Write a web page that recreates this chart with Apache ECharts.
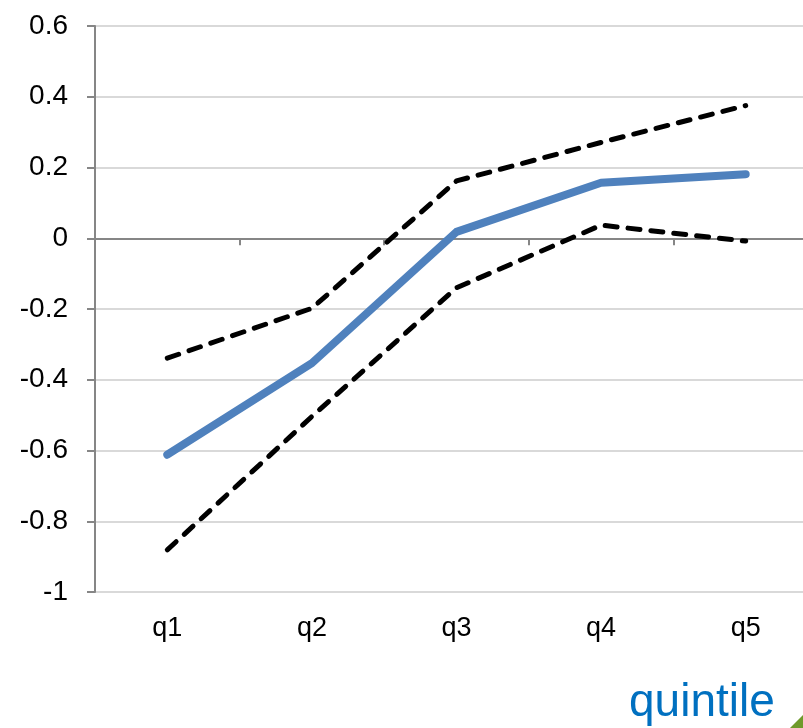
<!DOCTYPE html>
<html>
<head>
<meta charset="utf-8">
<script src="https://cdn.jsdelivr.net/npm/echarts@6/dist/echarts.min.js"></script>
<style>
  html, body { margin: 0; padding: 0; background: #ffffff; overflow: hidden; }
  #wrap { width: 803px; height: 728px; overflow: hidden; }
  #chart { width: 818px; height: 728px; }
</style>
</head>
<body>
<div id="wrap"><div id="chart"></div></div>
<script>
// Quintile categories and the estimate with its upper / lower bounds
var categories = ['q1', 'q2', 'q3', 'q4', 'q5'];
var estimate = [-0.612, -0.353, 0.018, 0.157, 0.181];
var upperBound = [-0.339, -0.198, 0.162, 0.271, 0.375];
var lowerBound = [-0.881, -0.504, -0.14, 0.037, -0.008];
var axisTitle = 'quintile';

var FONT = '"Liberation Sans", Arial, sans-serif';
var chart = echarts.init(document.getElementById('chart'), null, { renderer: 'canvas' });

var dashedStyle = {
  color: '#000000',
  width: 5,
  type: [12, 11],
  cap: 'round'
};

chart.setOption({
  animation: false,
  backgroundColor: '#ffffff',
  // plot area runs slightly past the visible right edge
  grid: { left: 95, top: 26, right: 0, height: 566, containLabel: false },
  xAxis: [
    {
      // labels along the bottom
      type: 'category',
      data: categories,
      position: 'bottom',
      boundaryGap: true,
      axisLine: { show: false, onZero: false },
      axisTick: { show: false },
      axisLabel: { color: '#000000', fontFamily: FONT, fontSize: 27, margin: 23 }
    },
    {
      // horizontal axis line crossing at zero, with category ticks
      type: 'category',
      data: categories,
      position: 'bottom',
      boundaryGap: true,
      axisLine: { show: true, onZero: true, lineStyle: { color: '#868686', width: 2 } },
      axisTick: { show: true, length: 7, lineStyle: { color: '#868686', width: 2 } },
      axisLabel: { show: false }
    }
  ],
  yAxis: {
    type: 'value',
    min: -1,
    max: 0.6,
    interval: 0.2,
    axisLine: { show: true, lineStyle: { color: '#868686', width: 2 } },
    axisTick: { show: true, length: 8, lineStyle: { color: '#868686', width: 2 } },
    axisLabel: {
      color: '#000000', fontFamily: FONT, fontSize: 28, margin: 27,
      formatter: function (v) { return String(Math.round(v * 10) / 10); }
    },
    splitLine: { show: true, lineStyle: { color: '#d9d9d9', width: 2 } }
  },
  series: [
    {
      type: 'line', data: upperBound, xAxisIndex: 0,
      symbol: 'none', lineStyle: dashedStyle, z: 3
    },
    {
      type: 'line', data: lowerBound, xAxisIndex: 0,
      symbol: 'none', lineStyle: dashedStyle, z: 3
    },
    {
      type: 'line', data: estimate, xAxisIndex: 0,
      symbol: 'none',
      lineStyle: { color: '#4f81bd', width: 8, cap: 'round', join: 'round' },
      z: 4
    }
  ],
  graphic: [
    {
      type: 'text',
      left: 629,
      top: 680,
      style: { text: axisTitle, font: '46px ' + FONT, fill: '#0070c0' }
    },
    {
      type: 'polygon',
      shape: { points: [[790, 728], [803, 715], [803, 728]] },
      style: { fill: '#6f9a2b' }
    }
  ]
});
</script>
</body>
</html>
